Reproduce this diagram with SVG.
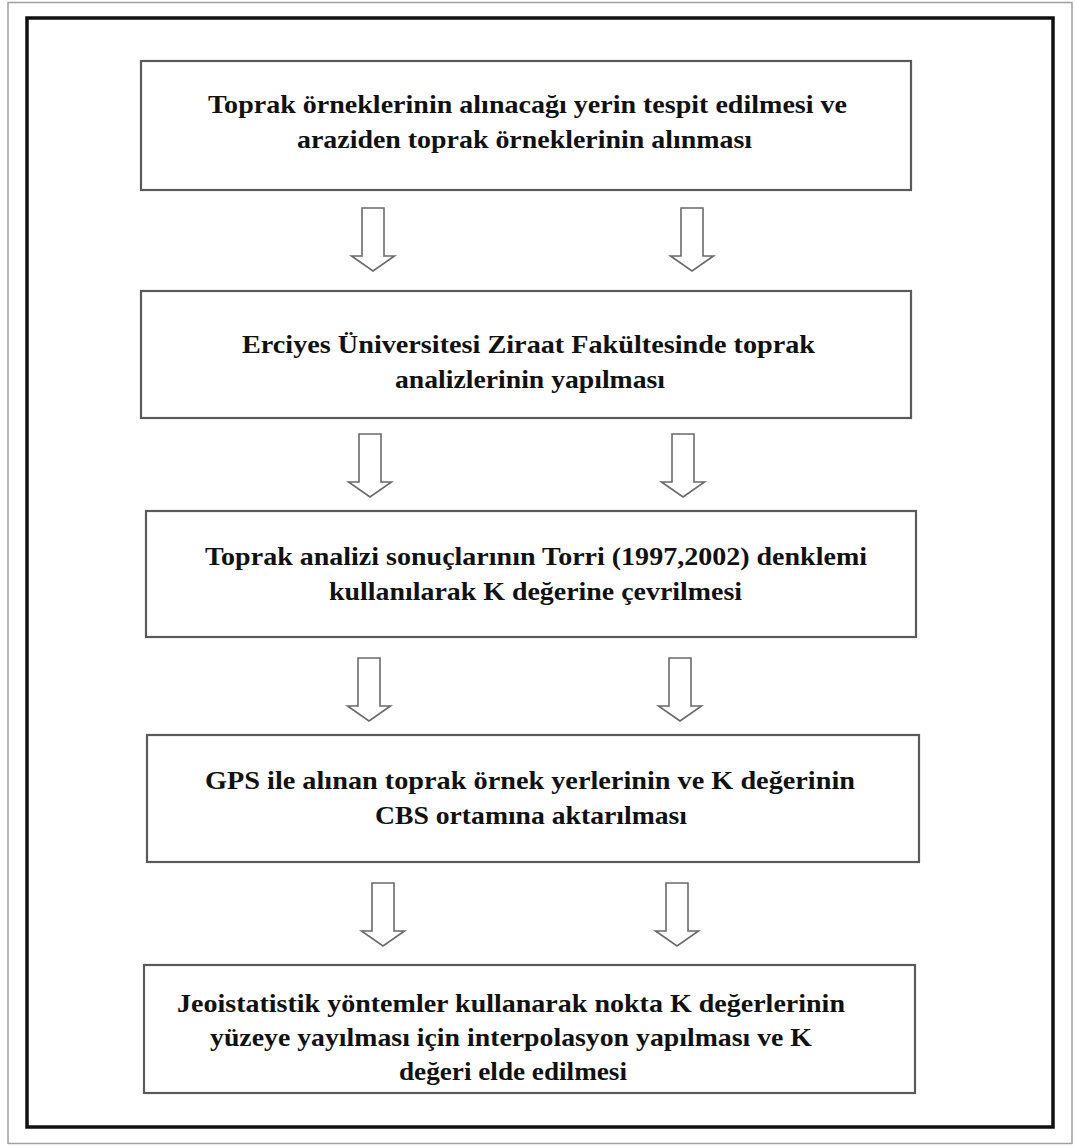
<svg xmlns="http://www.w3.org/2000/svg" width="1075" height="1146" viewBox="0 0 1075 1146">
  <style>
    .page { fill: #ffffff; stroke: #a0a0a0; stroke-width: 1.5; }
    .frame { fill: none; stroke: #111111; stroke-width: 3.5; }
    .box { fill: #ffffff; stroke: #5a5a5a; stroke-width: 2.2; }
    .lbl { font-family: "Liberation Serif", "Times New Roman", serif; font-weight: bold; font-size: 26px; fill: #111111; }
    .arrow { fill: #ffffff; stroke: #6a6a6a; stroke-width: 1.6; stroke-linejoin: miter; }
  </style>
  <defs>
    <!-- hollow block arrow pointing down, origin at top centre of the shaft -->
    <path id="down" d="M -11 0 L 11 0 L 11 48 L 21.5 48 L 0 63 L -21.5 48 L -11 48 Z"/>
  </defs>

  <rect x="0" y="0" width="1075" height="1146" fill="#ffffff"/>
  <rect class="page" x="8" y="2.5" width="1064" height="1141"/>
  <rect class="frame" x="27" y="18" width="1026" height="1109"/>

  <g id="node-1">
    <rect class="box" x="141" y="61" width="770" height="129"/>
    <text class="lbl" x="208" y="113" textLength="639" lengthAdjust="spacingAndGlyphs">Toprak örneklerinin alınacağı yerin tespit edilmesi ve</text>
    <text class="lbl" x="297" y="148" textLength="455" lengthAdjust="spacingAndGlyphs">araziden toprak örneklerinin alınması</text>
  </g>

  <g id="node-2">
    <rect class="box" x="141" y="291" width="770" height="127"/>
    <text class="lbl" x="242" y="353" textLength="573" lengthAdjust="spacingAndGlyphs">Erciyes Üniversitesi Ziraat Fakültesinde toprak</text>
    <text class="lbl" x="395" y="388" textLength="270" lengthAdjust="spacingAndGlyphs">analizlerinin yapılması</text>
  </g>

  <g id="node-3">
    <rect class="box" x="146" y="511" width="770" height="126"/>
    <text class="lbl" x="205" y="565" textLength="662" lengthAdjust="spacingAndGlyphs">Toprak analizi sonuçlarının Torri (1997,2002) denklemi</text>
    <text class="lbl" x="329" y="600" textLength="413" lengthAdjust="spacingAndGlyphs">kullanılarak K değerine çevrilmesi</text>
  </g>

  <g id="node-4">
    <rect class="box" x="147" y="735" width="772" height="127"/>
    <text class="lbl" x="205" y="789" textLength="650" lengthAdjust="spacingAndGlyphs">GPS ile alınan toprak örnek yerlerinin  ve K değerinin</text>
    <text class="lbl" x="375" y="824" textLength="312" lengthAdjust="spacingAndGlyphs">CBS ortamına aktarılması</text>
  </g>

  <g id="node-5">
    <rect class="box" x="144" y="965" width="771" height="128"/>
    <text class="lbl" x="177" y="1012" textLength="668" lengthAdjust="spacingAndGlyphs">Jeoistatistik yöntemler kullanarak nokta  K değerlerinin</text>
    <text class="lbl" x="210" y="1046" textLength="602" lengthAdjust="spacingAndGlyphs">yüzeye yayılması için interpolasyon yapılması ve K</text>
    <text class="lbl" x="399" y="1080" textLength="228" lengthAdjust="spacingAndGlyphs">değeri elde edilmesi</text>
  </g>

  <g id="connectors">
    <use href="#down" class="arrow" x="373" y="208"/>
    <use href="#down" class="arrow" x="692" y="208"/>
    <use href="#down" class="arrow" x="370" y="434"/>
    <use href="#down" class="arrow" x="683" y="434"/>
    <use href="#down" class="arrow" x="369" y="658"/>
    <use href="#down" class="arrow" x="680" y="658"/>
    <use href="#down" class="arrow" x="383" y="883"/>
    <use href="#down" class="arrow" x="677" y="883"/>
  </g>
</svg>
